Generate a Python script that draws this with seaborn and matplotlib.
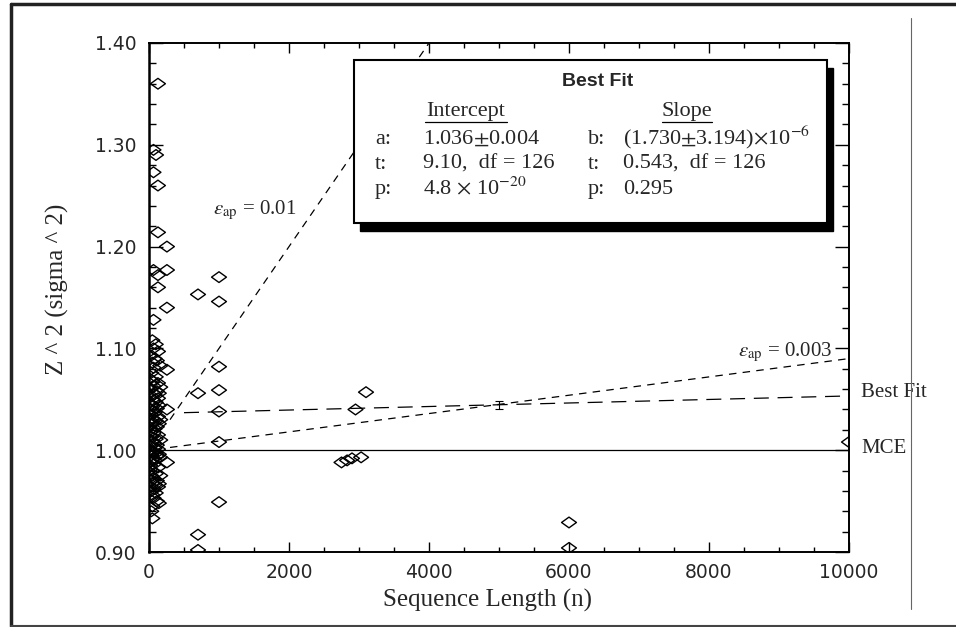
import numpy as np
import pandas as pd
import matplotlib
matplotlib.use("Agg")
import matplotlib.pyplot as plt
from matplotlib.path import Path
from matplotlib.patches import Rectangle
from matplotlib.lines import Line2D
from matplotlib.ticker import MultipleLocator
import seaborn as sns

# === Data ===
# isolated points (sequence length n, Z^2)
outer_n = [128, 64, 100, 64, 128, 128, 256, 64, 256, 128, 1000, 128, 700, 1000, 256, 64,
           256, 1000, 700, 1000, 256, 1000, 1000, 256, 1000, 700, 700,
           3100, 2950, 2750, 2830, 2900, 3030, 6000, 6000, 10000]
outer_z = [1.360, 1.295, 1.290, 1.273, 1.260, 1.214, 1.200, 1.177, 1.177, 1.172, 1.170, 1.160,
           1.153, 1.146, 1.140, 1.128, 1.079, 1.082, 1.056, 1.059, 1.040, 1.038, 1.008, 0.988,
           0.949, 0.917, 0.902, 1.057, 1.040, 0.988, 0.990, 0.992, 0.993, 0.929, 0.904, 1.008]

# dense cluster of short sequences near n = 0
clust_n = [48, 96, 64, 128, 32, 80, 112, 48, 160, 64,
           32, 96, 48, 128, 64, 24, 112, 80, 40, 128, 64, 96, 32, 48, 112, 64, 80, 24, 128,
           48, 96, 64, 32, 112, 80, 48,
           64, 128, 32, 96, 48, 64, 112, 24, 80, 128, 48, 64, 96, 32, 112, 64, 48, 80,
           64, 128, 48, 96, 32, 64, 112, 48, 80, 128, 64, 32, 96, 48, 64, 112,
           48, 32, 48,
           160, 160, 16, 16, 16, 16, 160, 160, 140,
           140, 16, 140, 140, 16, 160, 16, 140, 16, 140]
clust_z = [1.108, 1.104, 1.100, 1.097, 1.093, 1.090, 1.088, 1.086, 1.083, 1.081,
           1.076, 1.072, 1.068, 1.066, 1.063, 1.060, 1.058, 1.055, 1.053, 1.051, 1.049, 1.047,
           1.045, 1.043, 1.041, 1.039, 1.037, 1.035, 1.033, 1.031, 1.029, 1.027, 1.025, 1.023,
           1.021, 1.019,
           1.017, 1.015, 1.013, 1.011, 1.009, 1.007, 1.005, 1.004, 1.002, 1.001, 0.999, 0.998,
           0.997, 0.995, 0.994, 0.992, 0.991, 0.990,
           0.986, 0.983, 0.980, 0.977, 0.975, 0.972, 0.970, 0.968, 0.966, 0.964, 0.962, 0.960,
           0.958, 0.956, 0.953, 0.950,
           0.945, 0.940, 0.933,
           1.062, 1.010, 1.000, 1.020, 1.040, 0.985, 0.975, 1.030, 0.996,
           1.044, 1.070, 1.056, 1.026, 1.014, 0.993, 0.981, 0.967, 0.959, 0.948]

# fit results
intercept = 1.036
slope = 1.730e-6
err_n = 5000
err_z = 1.0447
err_half = 0.004
eps_vals = [0.01, 0.003]
line_n = np.array([300, 10000])
fit_n = np.array([500, 10000])

pts = pd.DataFrame({"n": outer_n + clust_n, "z": outer_z + clust_z})

# === Figure ===
sns.set_style("ticks")
plt.rcParams["font.family"] = ["Liberation Serif", "DejaVu Serif"]
plt.rcParams["mathtext.fontset"] = "stix"

W, H = 956, 627
fig = plt.figure(figsize=(W / 100, H / 100), dpi=100)
ax = fig.add_axes([149 / W, 1 - 552 / H, 700 / W, 509 / H])

def fx(x):
    return x / W

def fy(y):
    return 1 - y / H

# flattened open diamond marker
diamond = Path([(-1, 0), (0, 0.72), (1, 0), (0, -0.72), (-1, 0)],
               [Path.MOVETO, Path.LINETO, Path.LINETO, Path.LINETO, Path.CLOSEPOLY])

# reference lines
sns.lineplot(x=[0, 10000], y=[1.0, 1.0], ax=ax, color="black", lw=0.9)
for e in eps_vals:
    sns.lineplot(x=line_n, y=1 + e ** 2 * line_n, ax=ax, color="black", lw=0.9,
                 linestyle=(0, (6, 5)))
sns.lineplot(x=fit_n, y=intercept + slope * fit_n, ax=ax, color="black", lw=0.9,
             linestyle=(0, (12, 7)))
ax.errorbar(err_n, err_z, yerr=err_half, color="black", lw=0.8, capsize=3, capthick=0.8)

sns.scatterplot(data=pts, x="n", y="z", ax=ax, marker=diamond, s=115, linewidth=1.0)
sc = ax.collections[-1]
sc.set_facecolor("none")
sc.set_edgecolor("black")

ax.set_xlim(0, 10000)
ax.set_ylim(0.90, 1.40)
ax.xaxis.set_major_locator(MultipleLocator(2000))
ax.xaxis.set_minor_locator(MultipleLocator(500))
ax.yaxis.set_major_locator(MultipleLocator(0.1))
ax.yaxis.set_minor_locator(MultipleLocator(0.02))
ax.tick_params(which="both", direction="in", top=True, right=True, color="black")
ax.tick_params(axis="x", which="major", length=7, width=1, pad=8)
ax.tick_params(axis="x", which="minor", length=3.5, width=1)
ax.tick_params(axis="y", which="major", length=10, width=1, pad=9)
ax.tick_params(axis="y", which="minor", length=5, width=1)
ax.set_xticks([0, 2000, 4000, 6000, 8000, 10000])
ax.set_xticklabels(["0", "2000", "4000", "6000", "8000", "10000"],
                   fontfamily="DejaVu Sans", fontsize=13.5)
yt = [0.90, 1.00, 1.10, 1.20, 1.30, 1.40]
ax.set_yticks(yt)
ax.set_yticklabels([f"{v:.2f}" for v in yt], fontfamily="DejaVu Sans", fontsize=13.5)
for sp in ax.spines.values():
    sp.set_linewidth(1.4)
    sp.set_color("black")
ax.spines["left"].set_linewidth(1.8)

ax.set_xlabel("Sequence Length (n)", fontsize=18)
ax.set_ylabel("Z ^ 2 (sigma ^ 2)", fontsize=18)
ax.xaxis.set_label_coords(0.483, -0.072)
ax.yaxis.set_label_coords(-0.114, 0.517)

# line labels
ax.text(914, 1.236, r"$\varepsilon_{\rm ap}$ = 0.01", fontsize=15, va="center", ha="left")
ax.text(9757, 1.096, r"$\varepsilon_{\rm ap}$ = 0.003", fontsize=15, va="center", ha="right")
ax.text(10171, 1.057, "Best Fit", fontsize=15, va="center", ha="left", clip_on=False)
ax.text(10171, 1.002, "MCE", fontsize=15, va="center", ha="left", clip_on=False)

# Best Fit box with drop shadow
bx0, by0, bx1, by1 = 354, 60, 827, 223
fig.add_artist(Rectangle((fx(bx0 + 6), fy(by1 + 8)), (bx1 - bx0) / W, (by1 - by0) / H,
                         transform=fig.transFigure, facecolor="black", edgecolor="black",
                         zorder=5))
fig.add_artist(Rectangle((fx(bx0), fy(by1)), (bx1 - bx0) / W, (by1 - by0) / H,
                         transform=fig.transFigure, facecolor="white", edgecolor="black",
                         lw=1.5, zorder=6))
fig.text(fx(598), fy(82), "Best Fit", fontfamily="Liberation Sans", fontweight="bold",
         fontsize=14, ha="center", va="center", zorder=7)
fig.text(fx(466), fy(116), "Intercept", fontsize=16, ha="center", va="baseline", zorder=7)
fig.text(fx(687), fy(116), "Slope", fontsize=16, ha="center", va="baseline", zorder=7)
fig.add_artist(Line2D([fx(425), fx(507)], [fy(122), fy(122)], color="black", lw=0.9, zorder=7))
fig.add_artist(Line2D([fx(662), fx(712)], [fy(122), fy(122)], color="black", lw=0.9, zorder=7))

rows_left = [("a:", r"1.036$\pm$0.004"), ("t:", "9.10,  df = 126"),
             ("p:", r"4.8 $\times$ 10$^{-20}$")]
rows_right = [("b:", r"(1.730$\pm$3.194)$\times$10$^{-6}$"), ("t:", "0.543,  df = 126"),
              ("p:", "0.295")]
for i, yb in enumerate([144, 169, 194]):
    fig.text(fx(375), fy(yb), rows_left[i][0], fontsize=16, va="baseline", zorder=7)
    fig.text(fx(423), fy(yb), rows_left[i][1], fontsize=16, va="baseline", zorder=7)
    fig.text(fx(588), fy(yb), rows_right[i][0], fontsize=16, va="baseline", zorder=7)
    fig.text(fx(623), fy(yb), rows_right[i][1], fontsize=16, va="baseline", zorder=7)

# page frame
fig.add_artist(Line2D([fx(11), 1], [fy(4), fy(4)], color="#222222", lw=2.5))
fig.add_artist(Line2D([fx(11), fx(11)], [fy(4), fy(626)], color="#222222", lw=2.5))
fig.add_artist(Line2D([fx(11), 1], [fy(626), fy(626)], color="#444444", lw=1.5))
fig.add_artist(Line2D([fx(911), fx(911)], [fy(18), fy(609)], color="#666666", lw=0.8))

fig.savefig("out.png", dpi=100)
